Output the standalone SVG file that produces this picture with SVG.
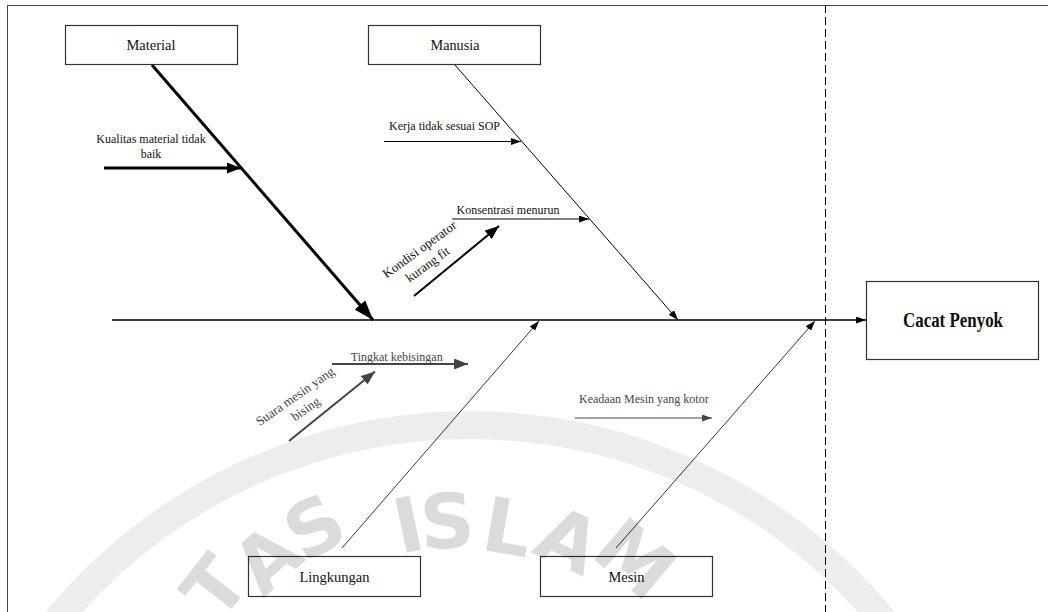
<svg xmlns="http://www.w3.org/2000/svg" width="1048" height="612" viewBox="0 0 1048 612">
  <style>
    .box { fill: #ffffff; stroke: #333333; stroke-width: 1.2; }
    .lbl { font-family: "Liberation Serif", "Times New Roman", serif; font-size: 15px; fill: #111111; text-anchor: middle; }
    .sm { font-family: "Liberation Serif", "Times New Roman", serif; font-size: 12px; fill: #111111; }
    .smg { font-family: "Liberation Serif", "Times New Roman", serif; font-size: 12px; fill: #444444; }
    .rot { font-size: 13px; }
    .mid { text-anchor: middle; }
    .ln { stroke: #000000; fill: none; }
    .lg { stroke: #444444; fill: none; }
    .wm { font-family: "DejaVu Sans", sans-serif; font-weight: bold; font-size: 76px; fill: #000000; fill-opacity: 0.14; text-anchor: middle; }
  </style>
  <defs>
    <marker id="aBig" markerUnits="userSpaceOnUse" markerWidth="20" markerHeight="14" viewBox="0 0 20 14" refX="20" refY="7" orient="auto">
      <path d="M0,0 L20,7 L0,14 z" fill="#000"/>
    </marker>
    <marker id="aMed" markerUnits="userSpaceOnUse" markerWidth="14" markerHeight="11" viewBox="0 0 14 11" refX="14" refY="5.5" orient="auto">
      <path d="M0,0 L14,5.5 L0,11 z" fill="#000"/>
    </marker>
    <marker id="aSm" markerUnits="userSpaceOnUse" markerWidth="10" markerHeight="7" viewBox="0 0 10 7" refX="10" refY="3.5" orient="auto">
      <path d="M0,0 L10,3.5 L0,7 z" fill="#000"/>
    </marker>
    <marker id="aGMed" markerUnits="userSpaceOnUse" markerWidth="14" markerHeight="11" viewBox="0 0 14 11" refX="14" refY="5.5" orient="auto">
      <path d="M0,0 L14,5.5 L0,11 z" fill="#444"/>
    </marker>
    <marker id="aGSm" markerUnits="userSpaceOnUse" markerWidth="10" markerHeight="7" viewBox="0 0 10 7" refX="10" refY="3.5" orient="auto">
      <path d="M0,0 L10,3.5 L0,7 z" fill="#444"/>
    </marker>
  </defs>

  <rect width="1048" height="612" fill="#ffffff"/>

  <!-- frame and divider -->
  <rect x="7.5" y="5.5" width="1100" height="700" fill="none" stroke="#444444" stroke-width="1"/>
  <line x1="825.5" y1="5" x2="825.5" y2="612" stroke="#000" stroke-width="1" stroke-dasharray="8 4"/>

  <g id="connectors">
    <line class="ln" x1="112" y1="320" x2="866" y2="320" stroke-width="1.3" marker-end="url(#aSm)"/>
    <line class="ln" x1="152" y1="65" x2="373" y2="320" stroke-width="3" marker-end="url(#aBig)"/>
    <line class="ln" x1="455" y1="65" x2="678" y2="320" stroke-width="1" marker-end="url(#aSm)"/>
    <line class="ln" x1="342" y1="548" x2="539" y2="321" stroke-width="0.8" marker-end="url(#aSm)"/>
    <line class="ln" x1="616" y1="548" x2="815" y2="321" stroke-width="0.8" marker-end="url(#aSm)"/>
    <line class="ln" x1="104" y1="168" x2="241" y2="168" stroke-width="3" marker-end="url(#aMed)"/>
    <line class="ln" x1="384" y1="141.5" x2="521" y2="141.5" stroke-width="1" marker-end="url(#aSm)"/>
    <line class="ln" x1="452" y1="219" x2="589" y2="219" stroke-width="1" marker-end="url(#aSm)"/>
    <line class="ln" x1="414" y1="296" x2="499" y2="226" stroke-width="2" marker-end="url(#aMed)"/>
    <line class="lg" x1="332" y1="364" x2="468" y2="364" stroke-width="2" marker-end="url(#aGMed)"/>
    <line class="lg" x1="289" y1="441" x2="375" y2="371.5" stroke-width="2" marker-end="url(#aGMed)"/>
    <line class="lg" x1="575" y1="418" x2="712" y2="418" stroke-width="1" marker-end="url(#aGSm)"/>
  </g>

  <g id="cause-labels">
    <text class="sm mid" x="151" y="143">Kualitas material tidak</text>
    <text class="sm mid" x="151" y="158">baik</text>
    <text class="sm" x="389" y="130">Kerja tidak sesuai SOP</text>
    <text class="sm" x="456.5" y="214">Konsentrasi menurun</text>
    <text class="sm mid rot" transform="translate(420,250) rotate(-36)" y="3.5">Kondisi operator</text>
    <text class="sm mid rot" transform="translate(428,265) rotate(-36)" y="3.5">kurang fit</text>
    <text class="smg mid" x="396.7" y="360.5">Tingkat kebisingan</text>
    <text class="smg mid rot" transform="translate(295.5,397) rotate(-35)" y="3.5">Suara mesin yang</text>
    <text class="smg mid rot" transform="translate(306,409.5) rotate(-35)" y="3.5">bising</text>
    <text class="smg" x="579" y="403">Keadaan Mesin yang kotor</text>
  </g>

  <g id="node-material">
    <rect class="box" x="65.5" y="25.5" width="172" height="39"/>
    <text class="lbl" x="151" y="50" textLength="49" lengthAdjust="spacingAndGlyphs">Material</text>
  </g>
  <g id="node-manusia">
    <rect class="box" x="368.5" y="25.5" width="172" height="39"/>
    <text class="lbl" x="455" y="50" textLength="49" lengthAdjust="spacingAndGlyphs">Manusia</text>
  </g>
  <g id="node-lingkungan">
    <rect class="box" x="248.5" y="556.5" width="172" height="40"/>
    <text class="lbl" x="334.5" y="581.5" textLength="70" lengthAdjust="spacingAndGlyphs">Lingkungan</text>
  </g>
  <g id="node-mesin">
    <rect class="box" x="540.5" y="556.5" width="172" height="40"/>
    <text class="lbl" x="626.5" y="581.5" textLength="36" lengthAdjust="spacingAndGlyphs">Mesin</text>
  </g>
  <g id="node-cacat-penyok">
    <rect class="box" x="866.5" y="281.5" width="172" height="78"/>
    <text class="lbl" x="953" y="327" textLength="100" lengthAdjust="spacingAndGlyphs" style="font-size:20px;font-weight:bold">Cacat Penyok</text>
  </g>

  <!-- faint scan watermark, printed over the page -->
  <g id="watermark">
    <path d="M20,671 A535,535 0 0 1 960,745" fill="none" stroke="#000000" stroke-opacity="0.07" stroke-width="28"/>
    <text class="wm" transform="translate(214,586) rotate(-52)" y="28">T</text>
    <text class="wm" transform="translate(266,558) rotate(-42)" y="28">A</text>
    <text class="wm" transform="translate(314,526) rotate(-30)" y="28">S</text>
    <text class="wm" transform="translate(408,524) rotate(-12)" y="28">I</text>
    <text class="wm" transform="translate(447,520) rotate(-3)" y="28">S</text>
    <text class="wm" transform="translate(508,526) rotate(10)" y="28">L</text>
    <text class="wm" transform="translate(569,539) rotate(25)" y="28">A</text>
    <text class="wm" transform="translate(636,558) rotate(40)" y="28">M</text>
  </g>
</svg>
